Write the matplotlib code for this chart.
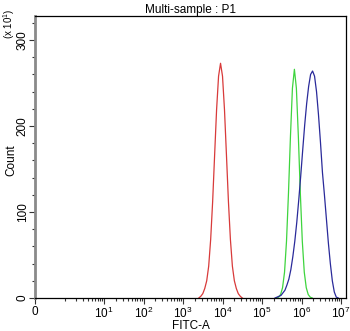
import numpy as np
import matplotlib
matplotlib.use('Agg')
import matplotlib.pyplot as plt

plt.rcParams['font.family'] = ['Liberation Sans', 'DejaVu Sans']
plt.rcParams['mathtext.fontset'] = 'custom'
plt.rcParams['mathtext.rm'] = 'Liberation Sans'
plt.rcParams['mathtext.it'] = 'Liberation Sans:italic'

# histogram channels (log10 of FITC-A) and counts (x10)
red_log = [3.40, 3.45, 3.50, 3.55, 3.60, 3.65, 3.70, 3.75, 3.80, 3.85, 3.90, 3.95,
           4.00, 4.05, 4.10, 4.15, 4.20, 4.25, 4.30, 4.35, 4.40, 4.45, 4.50]
red_count = [0, 2, 5, 11, 20, 37, 68, 112, 166, 219, 258, 273,
             258, 219, 166, 112, 68, 37, 20, 11, 5, 2, 0]

green_log = [5.37, 5.42, 5.47, 5.52, 5.57, 5.62, 5.67, 5.72, 5.77, 5.82,
             5.87, 5.92, 5.97, 6.02, 6.07, 6.12, 6.17, 6.22, 6.27]
green_count = [0, 1, 4, 12, 30, 66, 122, 188, 244, 266,
               244, 188, 122, 66, 30, 12, 4, 1, 0]

blue_log = [5.33, 5.38, 5.43, 5.48, 5.53, 5.58, 5.63, 5.68, 5.73, 5.78, 5.83,
            5.88, 5.93, 5.98, 6.03, 6.08, 6.13, 6.18, 6.23, 6.28, 6.33, 6.38,
            6.43, 6.48, 6.53, 6.58, 6.63, 6.68, 6.73, 6.78, 6.83, 6.88, 6.93]
blue_count = [0, 1, 2, 3, 6, 9, 15, 22, 33, 48, 66,
              88, 114, 142, 172, 201, 226, 246, 260, 264, 258, 240,
              213, 181, 146, 120, 92, 64, 40, 20, 7, 1, 0]

x_lo, x_hi = 10 ** -0.747, 10 ** 7.13
x_major = [x_lo, 1e1, 1e2, 1e3, 1e4, 1e5, 1e6, 1e7]
x_labels = ['0', '$10^{1}$', '$10^{2}$', '$10^{3}$', '$10^{4}$',
            '$10^{5}$', '$10^{6}$', '$10^{7}$']
y_major = [0, 100, 200, 300]

fs = 8.5
fig = plt.figure(figsize=(3.5, 3.31), dpi=100)
ax = fig.add_axes([0.1, 0.0997, 0.889, 0.852])

ax.plot(10 ** np.array(red_log), red_count, color='#d83a3a', lw=0.9)
ax.plot(10 ** np.array(green_log), green_count, color='#3ed43e', lw=0.9)
ax.plot(10 ** np.array(blue_log), blue_count, color='#2a2a9a', lw=0.9)

ax.set_xscale('log')
ax.set_xlim(x_lo, x_hi)
ax.set_ylim(0, 328)

ax.set_xticks(x_major)
ax.set_xticklabels(x_labels)
minor = [k * 10.0 ** j for j in range(0, 7) for k in range(1, 10)
         if k * 10.0 ** j not in x_major and x_lo < k * 10.0 ** j < x_hi]
ax.set_xticks(minor, minor=True)
ax.set_xticklabels([], minor=True)

ax.set_yticks(y_major)
ax.set_yticks(np.arange(0, 330, 20), minor=True)
ax.set_yticklabels([str(v) for v in y_major], rotation=90, va='center')

ax.tick_params(axis='both', which='major', labelsize=fs, length=4, width=0.8,
               color='#333333', pad=1.5)
ax.tick_params(axis='y', which='major', pad=0.5)
ax.tick_params(axis='both', which='minor', length=2.5, width=0.8, color='#333333')

for side in ['top', 'right', 'bottom']:
    ax.spines[side].set_color('black')
    ax.spines[side].set_linewidth(0.9)
ax.spines['left'].set_color('#8a8a8a')
ax.spines['left'].set_linewidth(2)

ax.set_xlabel('FITC-A', fontsize=fs)
ax.xaxis.set_label_coords(0.5, -0.079)
ax.set_ylabel('Count', fontsize=fs)
ax.yaxis.set_label_coords(-0.058, 0.49)

ax.text(-0.082, 0.972, '(x 10$^{1}$)', transform=ax.transAxes, rotation=90,
        ha='center', va='center', fontsize=7)
ax.text(0.5, 1.02, 'Multi-sample : P1', transform=ax.transAxes,
        ha='center', va='center', fontsize=fs)

fig.savefig('out.png', dpi=100, facecolor='white')
